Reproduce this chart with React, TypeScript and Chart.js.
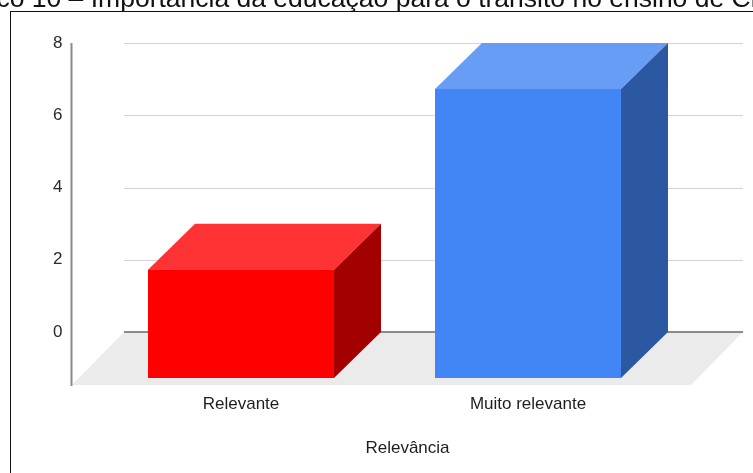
import React, { useEffect, useRef } from "react";
import { Chart, registerables } from "chart.js";

Chart.register(...registerables);

const categories = ["Relevante", "Muito relevante"];
const values = [3, 8];
const yTicks = [0, 2, 4, 6, 8];
const axisTitle = "Relevância";
const captionText = "Gráfico 10 – Importância da educação para o trânsito no ensino de Ciências";

const frontColors = ["#FF0000", "#4285F4"];
const topColors = ["#FF3333", "#689DF6"];
const sideColors = ["#A30000", "#2B58A1"];

const FONT = "'Liberation Sans', Arial, sans-serif";
const BAR_DX = -47;
const BAR_DY = 46;
const FLOOR_DX = -52;
const FLOOR_DY = 53;

const threeD = {
  id: "threeD",
  beforeDatasetsDraw(chart: any) {
    const { ctx, chartArea, scales } = chart;
    const y = scales.y;
    const wallL = chartArea.left - 20.5;
    const wallR = chartArea.right + 24.5;
    const zeroY = y.getPixelForValue(0);
    ctx.save();
    // floor
    ctx.fillStyle = "#EBEBEB";
    ctx.beginPath();
    ctx.moveTo(wallL, zeroY);
    ctx.lineTo(wallR, zeroY);
    ctx.lineTo(wallR + FLOOR_DX, zeroY + FLOOR_DY);
    ctx.lineTo(wallL + FLOOR_DX, zeroY + FLOOR_DY);
    ctx.closePath();
    ctx.fill();
    // grid lines
    yTicks.forEach((t) => {
      const py = Math.round(y.getPixelForValue(t));
      if (t === 0) return;
      ctx.strokeStyle = "#D4D4D4";
      ctx.lineWidth = 1;
      ctx.beginPath();
      ctx.moveTo(wallL, py + 0.5);
      ctx.lineTo(wallR, py + 0.5);
      ctx.stroke();
    });
    // zero line
    ctx.strokeStyle = "#8A8A8A";
    ctx.lineWidth = 2;
    ctx.beginPath();
    ctx.moveTo(wallL, Math.round(zeroY));
    ctx.lineTo(wallR, Math.round(zeroY));
    ctx.stroke();
    // left axis line
    const axX = wallL + FLOOR_DX - 0.5;
    ctx.strokeStyle = "#8A8A8A";
    ctx.lineWidth = 2;
    ctx.beginPath();
    ctx.moveTo(axX, y.getPixelForValue(8));
    ctx.lineTo(axX, zeroY + FLOOR_DY + 1);
    ctx.stroke();
    // tick labels
    ctx.fillStyle = "#2A2A2A";
    ctx.font = `17px ${FONT}`;
    ctx.textAlign = "right";
    ctx.textBaseline = "middle";
    yTicks.forEach((t) => {
      ctx.fillText(String(t), axX - 9, y.getPixelForValue(t));
    });
    ctx.restore();
  },
  afterDatasetsDraw(chart: any) {
    const { ctx, scales } = chart;
    const meta = chart.getDatasetMeta(0);
    ctx.save();
    meta.data.forEach((el: any, i: number) => {
      const p = el.getProps(["x", "y", "base", "width"], true);
      const x0 = p.x - p.width / 2;
      const x1 = p.x + p.width / 2;
      const yt = p.y;
      const yb = p.base;
      // top face
      ctx.fillStyle = topColors[i];
      ctx.beginPath();
      ctx.moveTo(x0, yt);
      ctx.lineTo(x1, yt);
      ctx.lineTo(x1 + BAR_DX, yt + BAR_DY);
      ctx.lineTo(x0 + BAR_DX, yt + BAR_DY);
      ctx.closePath();
      ctx.fill();
      // side face
      ctx.fillStyle = sideColors[i];
      ctx.beginPath();
      ctx.moveTo(x1, yt);
      ctx.lineTo(x1, yb);
      ctx.lineTo(x1 + BAR_DX, yb + BAR_DY);
      ctx.lineTo(x1 + BAR_DX, yt + BAR_DY);
      ctx.closePath();
      ctx.fill();
      // front face
      ctx.fillStyle = frontColors[i];
      ctx.fillRect(x0 + BAR_DX, yt + BAR_DY, x1 - x0, yb - yt);
    });
    // category labels
    const x = scales.x;
    const zeroY = scales.y.getPixelForValue(0);
    ctx.fillStyle = "#1E1E1E";
    ctx.font = `17px ${FONT}`;
    ctx.textAlign = "center";
    ctx.textBaseline = "middle";
    categories.forEach((c, i) => {
      ctx.fillText(c, x.getPixelForValue(i) + BAR_DX, zeroY + 72);
    });
    // axis title
    const wallL = chart.chartArea.left - 20.5;
    const wallR = chart.chartArea.right + 24.5;
    const axX = wallL + FLOOR_DX;
    ctx.fillText(axisTitle, (axX + wallR) / 2, zeroY + 116);
    ctx.restore();
  },
};

export default function App() {
  const ref = useRef<HTMLCanvasElement | null>(null);
  useEffect(() => {
    if (!ref.current) return;
    const chart = new Chart(ref.current, {
      type: "bar",
      data: {
        labels: categories,
        datasets: [
          {
            data: values,
            backgroundColor: "rgba(0,0,0,0)",
            borderWidth: 0,
            barPercentage: 0.648,
            categoryPercentage: 1,
          },
        ],
      },
      options: {
        animation: false,
        responsive: false,
        devicePixelRatio: 1,
        layout: { padding: { left: 144.5, right: 34.5, top: 43, bottom: 141 } },
        plugins: { legend: { display: false }, tooltip: { enabled: false } },
        scales: {
          x: { display: false, offset: true },
          y: { display: false, min: 0, max: 8 },
        },
      },
      plugins: [threeD],
    });
    return () => chart.destroy();
  }, []);

  return (
    <div
      style={{
        position: "fixed",
        left: 0,
        top: 0,
        width: 753,
        height: 473,
        overflow: "hidden",
        background: "#fff",
      }}
    >
      <canvas ref={ref} width={753} height={473} style={{ position: "absolute", left: 0, top: 0 }} />
      <div
        style={{
          position: "absolute",
          left: -61,
          top: -17.5,
          whiteSpace: "nowrap",
          fontFamily: FONT,
          fontSize: 26.5,
          lineHeight: "30px",
          color: "#111",
        }}
      >
        {captionText}
      </div>
      <div
        style={{
          position: "absolute",
          left: 10,
          top: 11,
          width: 760,
          height: 480,
          borderLeft: "1.5px solid #111",
          borderTop: "1.5px solid #111",
        }}
      />
    </div>
  );
}
